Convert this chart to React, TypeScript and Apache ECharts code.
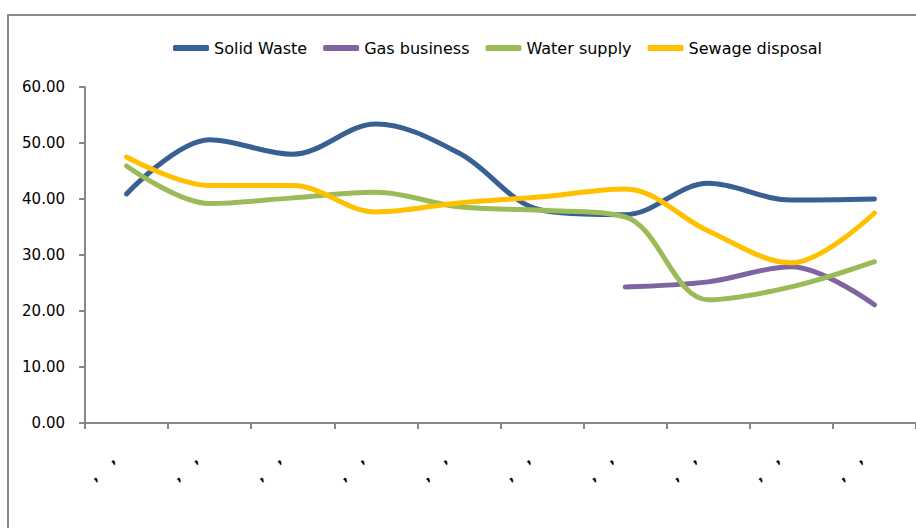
import React, { useEffect, useRef } from "react";
import * as echarts from "echarts";

const categories = [",    ,", ",    ,", ",    ,", ",    ,", ",    ,", ",    ,", ",    ,", ",    ,", ",    ,", ",    ,"];
const seriesNames = ["Solid Waste", "Gas business", "Water supply", "Sewage disposal"];
const solidWaste = [40.9, 50.6, 48.0, 53.4, 48.2, 38.0, 37.2, 42.8, 39.8, 40.0];
const gasBusiness = [null, null, null, null, null, null, 24.3, 25.2, 27.9, 21.1];
const waterSupply = [45.9, 39.2, 40.2, 41.2, 38.6, 38.0, 36.8, 22.0, 24.3, 28.8];
const sewageDisposal = [47.5, 42.4, 42.4, 37.7, 39.3, 40.4, 41.8, 34.3, 28.6, 37.5];
const colors = ["#386092", "#8064A2", "#9BBB59", "#FFC000"];
const yTicks = [0, 60, 10];

export default function App() {
  const ref = useRef<HTMLDivElement>(null);
  useEffect(() => {
    const chart = echarts.init(ref.current!, null, { renderer: "svg" });
    const font = "DejaVu Sans";
    const dataSets = [solidWaste, gasBusiness, waterSupply, sewageDisposal];
    chart.setOption({
      animation: false,
      backgroundColor: "#fff",
      color: colors,
      graphic: [
        {
          type: "rect",
          shape: { x: 8, y: 15, width: 940, height: 540 },
          style: { fill: "none", stroke: "#8a8a8a", lineWidth: 2 },
          silent: true,
        },
      ],
      legend: {
        left: 168,
        top: 35,
        itemWidth: 36,
        itemHeight: 6,
        itemGap: 16,
        icon: "roundRect",
        data: seriesNames,
        textStyle: { fontFamily: font, fontSize: 16, color: "#000" },
      },
      grid: { left: 85, right: -1, top: 87, bottom: 105, containLabel: false },
      xAxis: {
        type: "category",
        data: categories,
        boundaryGap: true,
        axisLine: { lineStyle: { color: "#888", width: 2 } },
        axisTick: { show: true, length: 6, alignWithLabel: false, lineStyle: { color: "#888", width: 2 } },
        axisLabel: {
          interval: 0,
          rotate: 45,
          margin: 20,
          fontSize: 14,
          fontWeight: "bold",
          fontFamily: font,
          color: "#000",
          padding: [0, 20, 0, 0],
        },
        splitLine: { show: false },
      },
      yAxis: {
        type: "value",
        min: yTicks[0],
        max: yTicks[1],
        interval: yTicks[2],
        axisLine: { show: true, lineStyle: { color: "#888", width: 2 } },
        axisTick: { show: true, length: 6, lineStyle: { color: "#888", width: 2 } },
        axisLabel: {
          margin: 20,
          fontSize: 15,
          fontFamily: font,
          color: "#000",
          formatter: (v: number) => v.toFixed(2),
        },
        splitLine: { show: false },
      },
      series: seriesNames.map((name, i) => ({
        name,
        type: "line",
        data: dataSets[i],
        smooth: 0.35,
        showSymbol: false,
        symbol: "none",
        lineStyle: { width: 5, color: colors[i], cap: "round" },
        itemStyle: { color: colors[i] },
      })),
    });
    return () => chart.dispose();
  }, []);
  return (
    <div
      ref={ref}
      style={{ position: "fixed", left: 0, top: 0, width: 916, height: 528 }}
    />
  );
}
